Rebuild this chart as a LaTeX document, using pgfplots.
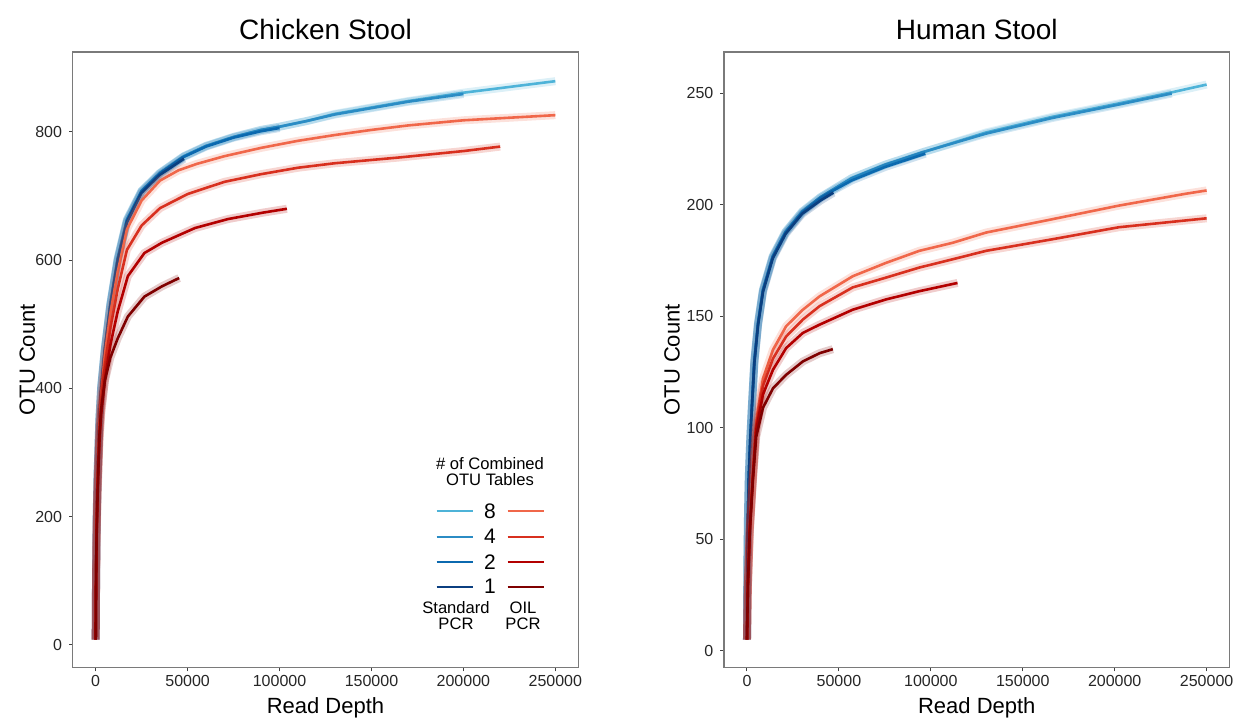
\documentclass[border=0pt]{standalone}
\usepackage{fontspec}
\setmainfont{Liberation Sans}
\usepackage{pgfplots}
\pgfplotsset{compat=1.18}

\definecolor{std8}{HTML}{4EB3D8}
\definecolor{std4}{HTML}{2B8CC4}
\definecolor{std2}{HTML}{0B69AF}
\definecolor{std1}{HTML}{0B3F80}
\definecolor{oil8}{HTML}{F0674A}
\definecolor{oil4}{HTML}{D8301F}
\definecolor{oil2}{HTML}{B30000}
\definecolor{oil1}{HTML}{7F0000}
\definecolor{framegray}{HTML}{7A7A7A}

% one rarefaction curve: a light band under a solid line
\pgfplotsset{
  band/.style={draw=#1, opacity=0.2, line width=4pt, forget plot},
  curve/.style={draw=#1, line width=1.3pt, line join=round, forget plot},
  every axis title shift=0pt,
  rare/.style={
    scale only axis, width=252.8pt, height=307.85pt,
    axis line style={framegray, line width=0.6pt},
    tick align=outside, xtick pos=lower, ytick pos=left,
    major tick length=1.8pt, tick style={black!75, line width=0.5pt},
    tick label style={font=\fontsize{8}{9}\selectfont, text=black!85},
    xticklabel style={yshift=1.5pt},
    /pgf/number format/fixed, /pgf/number format/precision=0,
    /pgf/number format/assume math mode=true,
    /pgf/number format/1000 sep={},
    scaled x ticks=false, scaled y ticks=false,
    xmin=-12500, xmax=262500, xtick={0,50000,100000,150000,200000,250000},
    xlabel={Read Depth}, ylabel={OTU Count},
    label style={font=\fontsize{11}{12}\selectfont},
    xlabel style={at={(axis description cs:0.5,-0.0655)}, anchor=center},
    title style={font=\fontsize{14}{15}\selectfont, at={(axis description cs:0.5,1.036)}, anchor=center},
  },
}

\begin{document}
\begin{tikzpicture}
\path[use as bounding box] (0,0) rectangle (618pt,-359.5pt);

% ---------------- Chicken Stool ----------------
\begin{axis}[rare, at={(36.35pt,-26pt)}, anchor=north west,
  title={Chicken Stool}, ymin=-35.7, ymax=924.5, ytick={0,200,400,600,800},
  ylabel style={at={(axis description cs:-0.09,0.5)}, anchor=center}]
\addplot[band=std8] coordinates {(0,8) (200,100) (500,190) (1000,262) (2000,350) (3000,402) (5000,462) (8000,532) (12000,603) (17000,663) (25000,708) (35000,736) (48000,762) (60000,778) (75000,792) (90000,803) (100000,808) (115000,817) (130000,828) (150000,838) (170000,848) (200000,861) (225000,870) (250000,879)};
\addplot[curve=std8] coordinates {(0,8) (200,100) (500,190) (1000,262) (2000,350) (3000,402) (5000,462) (8000,532) (12000,603) (17000,663) (25000,708) (35000,736) (48000,762) (60000,778) (75000,792) (90000,803) (100000,808) (115000,817) (130000,828) (150000,838) (170000,848) (200000,861) (225000,870) (250000,879)};
\addplot[band=std4] coordinates {(0,8) (200,100) (500,190) (1000,262) (2000,350) (3000,402) (5000,462) (8000,532) (12000,603) (17000,663) (25000,708) (35000,736) (48000,762) (60000,778) (75000,792) (90000,803) (100000,808) (115000,817) (130000,827) (150000,837) (170000,847) (200000,859)};
\addplot[curve=std4] coordinates {(0,8) (200,100) (500,190) (1000,262) (2000,350) (3000,402) (5000,462) (8000,532) (12000,603) (17000,663) (25000,708) (35000,736) (48000,762) (60000,778) (75000,792) (90000,803) (100000,808) (115000,817) (130000,827) (150000,837) (170000,847) (200000,859)};
\addplot[band=std2] coordinates {(0,8) (200,100) (500,190) (1000,262) (2000,350) (3000,401) (5000,461) (8000,530) (12000,601) (17000,661) (25000,707) (35000,735) (48000,761) (60000,777) (75000,791) (90000,801) (100000,806)};
\addplot[curve=std2] coordinates {(0,8) (200,100) (500,190) (1000,262) (2000,350) (3000,401) (5000,461) (8000,530) (12000,601) (17000,661) (25000,707) (35000,735) (48000,761) (60000,777) (75000,791) (90000,801) (100000,806)};
\addplot[band=std1] coordinates {(0,8) (200,99) (500,189) (1000,261) (2000,349) (3000,400) (5000,460) (8000,529) (12000,599) (17000,659) (25000,705) (35000,733) (48000,758)};
\addplot[curve=std1] coordinates {(0,8) (200,99) (500,189) (1000,261) (2000,349) (3000,400) (5000,460) (8000,529) (12000,599) (17000,659) (25000,705) (35000,733) (48000,758)};

\addplot[band=oil8] coordinates {(0,8) (200,98) (500,186) (1000,256) (2000,342) (3000,392) (5000,452) (8000,517) (12000,582) (17000,648) (25000,693) (35000,724) (45000,740) (55000,750) (70000,762) (90000,775) (110000,786) (130000,795) (150000,803) (170000,810) (200000,818) (225000,822) (250000,826)};
\addplot[curve=oil8] coordinates {(0,8) (200,98) (500,186) (1000,256) (2000,342) (3000,392) (5000,452) (8000,517) (12000,582) (17000,648) (25000,693) (35000,724) (45000,740) (55000,750) (70000,762) (90000,775) (110000,786) (130000,795) (150000,803) (170000,810) (200000,818) (225000,822) (250000,826)};
\addplot[band=oil4] coordinates {(0,8) (200,96) (500,180) (1000,248) (2000,330) (3000,378) (5000,435) (8000,495) (12000,555) (17000,616) (25000,654) (35000,681) (50000,703) (70000,722) (90000,734) (110000,744) (130000,751) (165000,760) (200000,770) (220000,777)};
\addplot[curve=oil4] coordinates {(0,8) (200,96) (500,180) (1000,248) (2000,330) (3000,378) (5000,435) (8000,495) (12000,555) (17000,616) (25000,654) (35000,681) (50000,703) (70000,722) (90000,734) (110000,744) (130000,751) (165000,760) (200000,770) (220000,777)};
\addplot[band=oil2] coordinates {(0,8) (200,94) (500,175) (1000,240) (2000,315) (3000,360) (5000,413) (8000,468) (12000,520) (17500,575) (26500,611) (36000,627) (54000,650) (72000,664) (91000,674) (104000,680)};
\addplot[curve=oil2] coordinates {(0,8) (200,94) (500,175) (1000,240) (2000,315) (3000,360) (5000,413) (8000,468) (12000,520) (17500,575) (26500,611) (36000,627) (54000,650) (72000,664) (91000,674) (104000,680)};
\addplot[band=oil1] coordinates {(0,8) (200,92) (500,168) (1000,228) (2000,325) (3000,368) (5000,412) (8000,448) (12000,478) (17500,512) (26500,543) (36000,559) (45400,572)};
\addplot[curve=oil1] coordinates {(0,8) (200,92) (500,168) (1000,228) (2000,325) (3000,368) (5000,412) (8000,448) (12000,478) (17500,512) (26500,543) (36000,559) (45400,572)};
\end{axis}

% ---------------- Human Stool ----------------
\begin{axis}[rare, at={(362pt,-26pt)}, anchor=north west,
  title={Human Stool}, ymin=-7.6, ymax=268.6, ytick={0,50,100,150,200,250},
  ylabel style={at={(axis description cs:-0.103,0.5)}, anchor=center}]
\addplot[band=std8] coordinates {(0,5) (100,25) (300,45) (600,63) (1000,78) (1800,95) (2700,110) (4000,130) (6000,147) (8700,162) (14000,177) (21000,188) (30000,197) (40000,203.5) (47000,207) (57000,212) (75000,218) (97000,224) (130000,232.5) (166000,239.5) (202000,245.5) (231000,250.5) (250000,254)};
\addplot[curve=std8] coordinates {(0,5) (100,25) (300,45) (600,63) (1000,78) (1800,95) (2700,110) (4000,130) (6000,147) (8700,162) (14000,177) (21000,188) (30000,197) (40000,203.5) (47000,207) (57000,212) (75000,218) (97000,224) (130000,232.5) (166000,239.5) (202000,245.5) (231000,250.5) (250000,254)};
\addplot[band=std4] coordinates {(0,5) (100,25) (300,45) (600,63) (1000,78) (1800,95) (2700,110) (4000,130) (6000,147) (8700,162) (14000,177) (21000,188) (30000,197) (40000,203.5) (47000,207) (57000,212) (75000,218) (97000,224) (130000,232) (166000,239) (202000,245) (231000,250)};
\addplot[curve=std4] coordinates {(0,5) (100,25) (300,45) (600,63) (1000,78) (1800,95) (2700,110) (4000,130) (6000,147) (8700,162) (14000,177) (21000,188) (30000,197) (40000,203.5) (47000,207) (57000,212) (75000,218) (97000,224) (130000,232) (166000,239) (202000,245) (231000,250)};
\addplot[band=std2] coordinates {(0,5) (100,25) (300,45) (600,63) (1000,78) (1800,95) (2700,110) (4000,129.5) (6000,146.5) (8700,161.5) (14000,176.5) (21000,187.5) (30000,196.5) (40000,203) (47000,206.5) (57000,211) (75000,217) (97000,223)};
\addplot[curve=std2] coordinates {(0,5) (100,25) (300,45) (600,63) (1000,78) (1800,95) (2700,110) (4000,129.5) (6000,146.5) (8700,161.5) (14000,176.5) (21000,187.5) (30000,196.5) (40000,203) (47000,206.5) (57000,211) (75000,217) (97000,223)};
\addplot[band=std1] coordinates {(0,5) (100,25) (300,45) (600,63) (1000,78) (1800,95) (2700,109.5) (4000,129) (6000,146) (8700,161) (14000,176) (21000,187) (30000,196) (40000,202) (47000,205.5)};
\addplot[curve=std1] coordinates {(0,5) (100,25) (300,45) (600,63) (1000,78) (1800,95) (2700,109.5) (4000,129) (6000,146) (8700,161) (14000,176) (21000,187) (30000,196) (40000,202) (47000,205.5)};

\addplot[band=oil8] coordinates {(0,5) (500,30) (1500,55) (3250,80) (5000,103) (8700,122) (14100,135) (21300,145.6) (30400,153) (39500,159) (57500,168) (75600,174) (93700,179.4) (111800,183) (130000,187.6) (166100,193.6) (202300,199.7) (238500,205) (250000,206.5)};
\addplot[curve=oil8] coordinates {(0,5) (500,30) (1500,55) (3250,80) (5000,103) (8700,122) (14100,135) (21300,145.6) (30400,153) (39500,159) (57500,168) (75600,174) (93700,179.4) (111800,183) (130000,187.6) (166100,193.6) (202300,199.7) (238500,205) (250000,206.5)};
\addplot[band=oil4] coordinates {(0,5) (500,30) (1500,55) (3250,79) (5000,101) (8700,119) (14100,131) (21300,141) (30400,148.6) (39500,154.6) (57500,163) (75600,167.4) (93700,171.9) (111800,175.6) (130000,179.4) (166100,184.6) (202300,190) (250000,194)};
\addplot[curve=oil4] coordinates {(0,5) (500,30) (1500,55) (3250,79) (5000,101) (8700,119) (14100,131) (21300,141) (30400,148.6) (39500,154.6) (57500,163) (75600,167.4) (93700,171.9) (111800,175.6) (130000,179.4) (166100,184.6) (202300,190) (250000,194)};
\addplot[band=oil2] coordinates {(0,5) (500,30) (1500,54) (3250,78) (5000,99) (8700,115) (14100,126) (21300,135.8) (30400,142.6) (39500,146.3) (57500,153) (75600,157.6) (93700,161.3) (114500,165)};
\addplot[curve=oil2] coordinates {(0,5) (500,30) (1500,54) (3250,78) (5000,99) (8700,115) (14100,126) (21300,135.8) (30400,142.6) (39500,146.3) (57500,153) (75600,157.6) (93700,161.3) (114500,165)};
\addplot[band=oil1] coordinates {(0,5) (500,29) (1500,53) (3250,77) (5000,96) (8700,109) (14100,117.7) (21300,123.8) (30400,129.8) (39500,133.5) (46700,135.3)};
\addplot[curve=oil1] coordinates {(0,5) (500,29) (1500,53) (3250,77) (5000,96) (8700,109) (14100,117.7) (21300,123.8) (30400,129.8) (39500,133.5) (46700,135.3)};
\end{axis}

% ---------------- legend (pixel grid of the reference) ----------------
\begin{scope}[x=0.5pt, y=-0.5pt, every node/.style={font=\fontsize{8.3}{9}\selectfont, inner sep=0pt, align=center}]
\node at (490,463.5) {\# of Combined};
\node at (490,480) {OTU Tables};
\foreach \yy/\n/\b/\r in {511/8/std8/oil8, 536.7/4/std4/oil4, 561.7/2/std2/oil2, 586.7/1/std1/oil1}{
  \draw[\b, line width=1pt] (436.7,\yy) -- (472.7,\yy);
  \draw[\r, line width=1pt] (507.7,\yy) -- (544,\yy);
  \node[font=\fontsize{10.5}{11}\selectfont] at (490,\yy) {\n};
}
\node at (456,608) {Standard};
\node at (456,623.5) {PCR};
\node at (523,608) {OIL};
\node at (523,623.5) {PCR};
\end{scope}
\end{tikzpicture}
\end{document}
